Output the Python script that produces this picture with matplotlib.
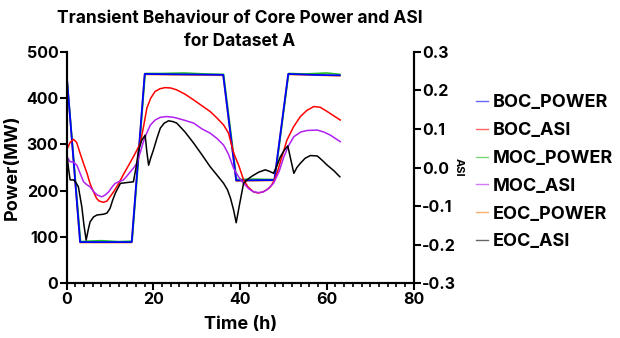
import matplotlib.pyplot as plt
from matplotlib.ticker import MultipleLocator

plt.rcParams['font.family'] = ['Inter', 'DejaVu Sans']
plt.rcParams['font.weight'] = 'bold'

# power series (MW)
boc_power_t = [0, 3.1, 15.0, 18.0, 27.0, 36.1, 39.1, 47.9, 51.1, 57.0, 63.0]
boc_power = [450, 89, 89, 452, 451, 450, 222, 223, 452, 450, 449]

moc_power_t = [0, 3.2, 5, 8, 12, 15.1, 18.1, 22, 27, 32, 36.2, 39.2, 43, 48, 51.2, 55, 60, 63]
moc_power = [451, 90, 91, 92, 90, 91, 453, 453, 454, 452, 451, 224, 225, 224, 453, 452, 454, 451]

eoc_power_t = [0, 3.1, 15.0, 18.0, 36.1, 39.1, 47.9, 51.1, 63.0]
eoc_power = [450, 88, 88, 451, 449, 221, 222, 451, 448]

# ASI series
boc_asi_t = [0, 0.8, 1.6, 2.3, 3.1, 3.9, 4.7, 5.4, 6.2, 6.9, 7.5, 8.5, 9.3, 10, 11, 12, 13,
             13.9, 14.6, 15.4, 16.2, 17, 17.8, 18.5, 19.4, 20.4, 21.5, 22.7, 24, 25.4, 27.3,
             29.3, 31.2, 33.1, 34.7, 36.2, 37.3, 38, 38.6, 39.7, 40.8, 41.8, 43.1, 44.1, 45.1,
             46.1, 47, 47.8, 48.5, 49.7, 50.8, 52.3, 53.9, 55.4, 57, 58.5, 60.1, 61.6, 63.1]
boc_asi = [0.045, 0.065, 0.073, 0.065, 0.037, 0.010, -0.015, -0.042, -0.063, -0.080, -0.087,
           -0.090, -0.087, -0.076, -0.060, -0.041, -0.020, -0.002, 0.012, 0.028, 0.045, 0.063,
           0.110, 0.154, 0.180, 0.197, 0.204, 0.207, 0.206, 0.201, 0.190, 0.175, 0.160, 0.145,
           0.128, 0.110, 0.090, 0.060, 0.035, 0.005, -0.032, -0.050, -0.063, -0.066, -0.064,
           -0.058, -0.050, -0.035, -0.015, 0.030, 0.071, 0.105, 0.132, 0.148, 0.158, 0.156,
           0.145, 0.134, 0.123]

moc_asi_t = [0, 0.8, 1.6, 2.4, 3.1, 3.9, 4.7, 5.4, 6.2, 7, 8.1, 8.9, 9.7, 10.5, 11.2, 12.2,
             13.1, 13.9, 14.7, 15.5, 16.2, 17, 17.7, 18.5, 19.3, 20.4, 21.6, 23, 24.7, 27,
             29.3, 31.2, 33.1, 34.7, 36.2, 37.3, 38.5, 39.7, 40.8, 42, 43.1, 44.3, 45.4, 46.5,
             47.7, 49, 50.1, 51.2, 52.4, 54, 55.5, 57.8, 59.3, 60.8, 62, 63.1]
moc_asi = [0.028, 0.015, 0.014, 0.005, -0.015, -0.037, -0.045, -0.050, -0.062, -0.071, -0.076,
           -0.071, -0.063, -0.050, -0.041, -0.036, -0.032, -0.022, -0.011, 0.0, 0.011, 0.040,
           0.067, 0.090, 0.110, 0.123, 0.130, 0.132, 0.130, 0.123, 0.115, 0.100, 0.089, 0.075,
           0.058, 0.035, -0.002, -0.025, -0.041, -0.055, -0.063, -0.065, -0.063, -0.055, -0.041,
           -0.010, 0.028, 0.057, 0.080, 0.092, 0.096, 0.097, 0.092, 0.084, 0.075, 0.067]

eoc_asi_t = [0, 0.4, 0.8, 1.6, 2.2, 2.7, 3.5, 4.0, 4.5, 5.0, 5.4, 6.2, 7, 8.5, 9.3, 10, 10.6,
             11.2, 12.4, 13.9, 15.4, 16, 16.6, 17.3, 18.1, 18.5, 18.9, 19.4, 20, 20.8, 21.6,
             22.5, 23.5, 24.5, 25.4, 27.3, 29.3, 31.2, 33.1, 34.7, 36.2, 37.1, 37.8, 38.5, 39.1,
             39.8, 40.8, 41.8, 42.8, 44.3, 45.8, 46.8, 47.7, 48.5, 49.3, 50.2, 51, 51.7, 52.4,
             53.1, 53.9, 55, 56.2, 57.8, 59, 60.1, 61.6, 63]
eoc_asi = [0.045, 0.0, -0.032, -0.032, -0.040, -0.050, -0.102, -0.150, -0.188, -0.160, -0.141,
           -0.128, -0.123, -0.121, -0.118, -0.106, -0.085, -0.067, -0.041, -0.039, -0.037, 0.0,
           0.045, 0.070, 0.084, 0.040, 0.006, 0.025, 0.045, 0.075, 0.102, 0.115, 0.121, 0.119,
           0.115, 0.092, 0.063, 0.033, 0.002, -0.020, -0.041, -0.058, -0.080, -0.110, -0.143,
           -0.100, -0.041, -0.030, -0.022, -0.012, -0.006, -0.010, -0.015, 0.005, 0.028, 0.045,
           0.056, 0.020, -0.015, 0.0, 0.011, 0.024, 0.031, 0.030, 0.018, 0.006, -0.008, -0.024]

fig = plt.figure(figsize=(6.2, 3.38), dpi=100)
ax = fig.add_axes([0.1075, 0.1618, 0.5595, 0.6852])
ax2 = ax.twinx()

l5, = ax.plot(eoc_power_t, eoc_power, color='#ff7f0e', lw=1.2, zorder=1)
l3, = ax.plot(moc_power_t, moc_power, color='#22bb22', lw=1.2, zorder=2)
l1, = ax.plot(boc_power_t, boc_power, color='#0000ff', lw=1.3, zorder=3)

l2, = ax2.plot(boc_asi_t, boc_asi, color='#ff0000', lw=1.1)
l4, = ax2.plot(moc_asi_t, moc_asi, color='#b020f0', lw=1.1)
l6, = ax2.plot(eoc_asi_t, eoc_asi, color='black', lw=1.1)

ax.set_xlim(0, 80)
ax.set_ylim(0, 500)
ax2.set_ylim(-0.3, 0.3)
ax.xaxis.set_major_locator(MultipleLocator(20))
ax.xaxis.set_minor_locator(MultipleLocator(2))
ax.yaxis.set_major_locator(MultipleLocator(100))
ax2.yaxis.set_major_locator(MultipleLocator(0.1))
ax2.set_yticklabels(['%.1f' % v for v in ax2.get_yticks()])

for a in (ax, ax2):
    a.spines['top'].set_visible(False)
    for s in a.spines.values():
        s.set_linewidth(1.5)
    a.tick_params(which='major', length=5, width=1.5, labelsize=11.5, pad=1)
    a.tick_params(which='minor', length=3, width=1.2)

ax.set_xlabel('Time (h)', fontsize=13, fontweight='bold', labelpad=7)
ax.set_ylabel('Power(MW)', fontsize=13, fontweight='bold', labelpad=4)
ax2.set_ylabel('ASI', fontsize=8, fontweight='bold', rotation=270, labelpad=6)

ax.set_title('Transient Behaviour of Core Power and ASI\nfor Dataset A',
             fontsize=12.5, fontweight='bold', pad=4, linespacing=1.45)

handles = [l1, l2, l3, l4, l5, l6]
labels = ['BOC_POWER', 'BOC_ASI', 'MOC_POWER', 'MOC_ASI', 'EOC_POWER', 'EOC_ASI']
leg = fig.legend(handles, labels, loc='center left', bbox_to_anchor=(0.768, 0.49),
                 frameon=False, fontsize=13, handlelength=0.65, handletextpad=0.25,
                 labelspacing=0.6, borderpad=0, borderaxespad=0)
for h in leg.get_lines():
    h.set_alpha(0.6)
    h.set_linewidth(1.0)

fig.savefig('out.png', dpi=100)
